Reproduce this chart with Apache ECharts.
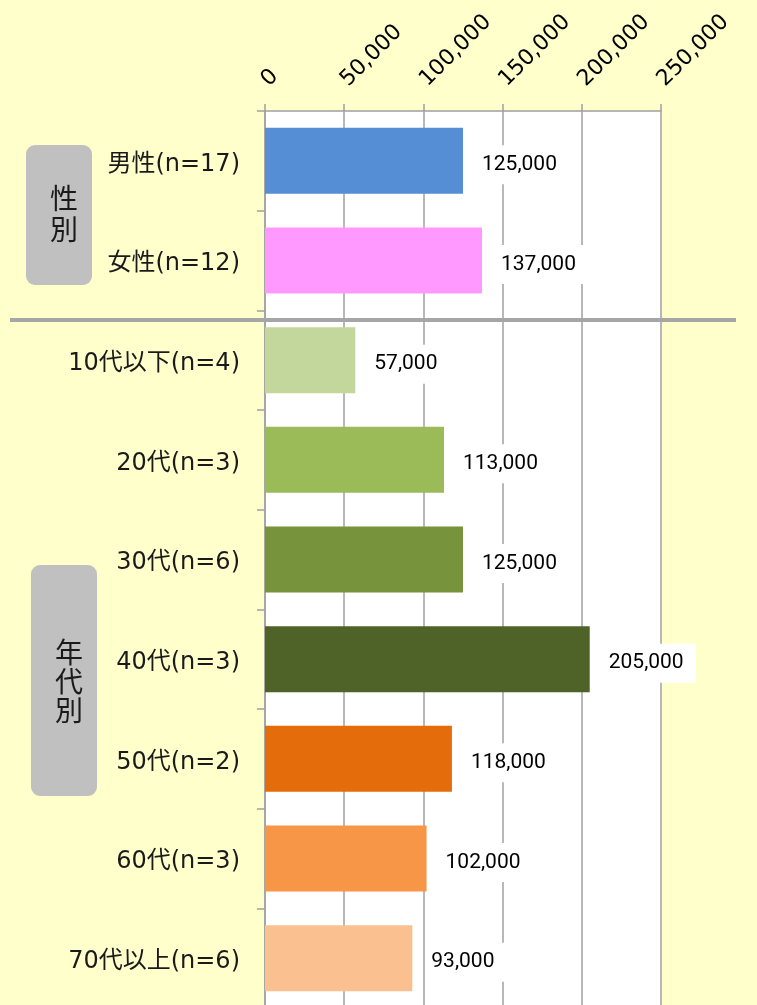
<!DOCTYPE html>
<html>
<head>
<meta charset="utf-8">
<script src="https://cdn.jsdelivr.net/npm/echarts@6/dist/echarts.min.js"></script>
<style>html,body{margin:0;padding:0;background:#ffffcc;}#c{width:757px;height:1005px;}</style>
</head>
<body>
<div id="c"></div>
<script>
var categories = ['男性(n=17)', '女性(n=12)', '10代以下(n=4)', '20代(n=3)', '30代(n=6)', '40代(n=3)', '50代(n=2)', '60代(n=3)', '70代以上(n=6)'];
var values = [125000, 137000, 57000, 113000, 125000, 205000, 118000, 102000, 93000];
var barColors = ['#558ed5', '#ff99ff', '#c3d69b', '#9bbb59', '#77933c', '#4f6228', '#e46c0a', '#f79646', '#fac090'];
var xTickValues = [0, 50000, 100000, 150000, 200000, 250000];
var xTickLabels = ['0', '50,000', '100,000', '150,000', '200,000', '250,000'];
var groupLabels = ['性\n別', '年\n代\n別'];

function fmt(v) {
  return String(v).replace(/\B(?=(\d{3})+(?!\d))/g, ',');
}

var chart = echarts.init(document.getElementById('c'));
var gray = '#a0a0a0';
var catFont = '"DejaVu Sans", "Noto Sans CJK JP"';
chart.setOption({
  backgroundColor: '#ffffcc',
  animation: false,
  grid: {
    left: 265, top: 111, width: 396, height: 897,
    containLabel: false, outerBoundsMode: 'none',
    show: true, backgroundColor: '#ffffff', borderWidth: 0
  },
  xAxis: {
    type: 'value', position: 'top',
    min: 0, max: 250000, interval: 50000,
    axisLine: { show: true, lineStyle: { color: gray, width: 1.5 } },
    axisTick: { show: true, length: 7, lineStyle: { color: gray, width: 1.5 } },
    splitLine: { show: true, lineStyle: { color: gray, width: 1.5 } },
    axisLabel: {
      rotate: -45, margin: 28, color: '#000',
      fontFamily: 'DejaVu Sans', fontSize: 22,
      formatter: function (v) {
        var i = xTickValues.indexOf(v);
        return i >= 0 ? xTickLabels[i] : fmt(v);
      }
    }
  },
  yAxis: {
    type: 'category', inverse: true, data: categories,
    axisLine: { show: true, lineStyle: { color: gray, width: 1.5 } },
    axisTick: { show: true, length: 8, alignWithLabel: false, lineStyle: { color: gray, width: 1.5 } },
    splitLine: { show: false },
    axisLabel: {
      margin: 25, color: '#1a1a1a',
      fontFamily: catFont, fontSize: 24,
      formatter: function (v) { return '{a|' + v + '}'; },
      rich: {
        a: { fontFamily: catFont, fontSize: 24, color: '#1a1a1a', padding: [7, 0, 0, 0] }
      }
    }
  },
  series: [{
    type: 'bar',
    barWidth: 66,
    data: values.map(function (v, i) {
      return { value: v, itemStyle: { color: barColors[i] } };
    }),
    label: {
      show: true, position: 'right', distance: 13,
      offset: [0, 4],
      backgroundColor: '#ffffff',
      padding: [9, 12, 9, 6],
      color: '#000', fontFamily: 'Roboto', fontSize: 21,
      formatter: function (p) { return fmt(p.value); }
    }
  }],
  graphic: [
    {
      type: 'line', z: 100,
      shape: { x1: 10, y1: 320, x2: 736, y2: 320 },
      style: { stroke: '#a6a6a6', lineWidth: 4 }
    },
    {
      type: 'rect', z: 100,
      shape: { x: 26, y: 145, width: 66, height: 140, r: 9 },
      style: { fill: '#c0c0c0' }
    },
    {
      type: 'text', z: 101, x: 64, y: 214,
      style: {
        text: groupLabels[0], fontSize: 28, lineHeight: 31,
        fontFamily: '"Noto Sans CJK JP"', fill: '#1a1a1a',
        textAlign: 'center', textVerticalAlign: 'middle'
      }
    },
    {
      type: 'rect', z: 100,
      shape: { x: 31, y: 565, width: 66, height: 231, r: 9 },
      style: { fill: '#c0c0c0' }
    },
    {
      type: 'text', z: 101, x: 69, y: 681,
      style: {
        text: groupLabels[1], fontSize: 28, lineHeight: 29,
        fontFamily: '"Noto Sans CJK JP"', fill: '#1a1a1a',
        textAlign: 'center', textVerticalAlign: 'middle'
      }
    }
  ]
});
</script>
</body>
</html>
